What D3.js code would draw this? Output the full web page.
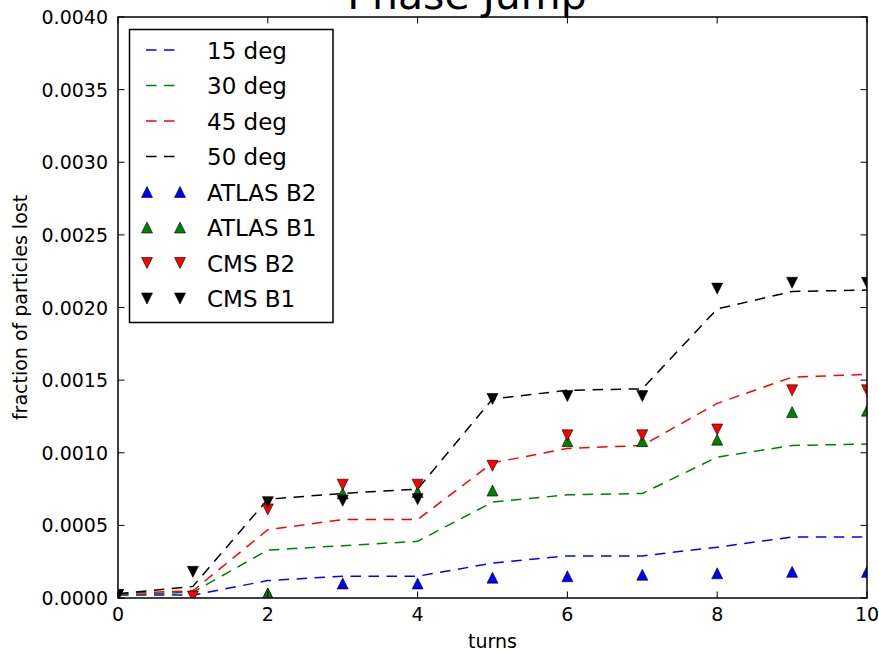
<!DOCTYPE html>
<html><head><meta charset="utf-8">
<script src="https://cdn.jsdelivr.net/npm/d3@7"></script>
<style>body{margin:0;background:#fff}svg{display:block;font-family:"DejaVu Sans",sans-serif}</style>
</head><body><svg id="c" width="879" height="653"></svg>
<script>
const turns = [0,1,2,3,4,5,6,7,8,9,10];
const deg15 = [0.00002,0.00002,0.00012,0.00015,0.00015,0.00024,0.00029,0.00029,0.00035,0.00042,0.00042];
const deg30 = [0.00002,0.00004,0.00033,0.00036,0.00039,0.00066,0.00071,0.00072,0.00097,0.00105,0.00106];
const deg45 = [0.00003,0.00005,0.00047,0.00054,0.00054,0.00093,0.00103,0.00105,0.00134,0.00152,0.00154];
const deg50 = [0.00003,0.00008,0.00068,0.00072,0.00075,0.00137,0.00143,0.00144,0.00199,0.00211,0.00212];
const atlasB2 = [null,null,0.00003,0.00010,0.00010,0.00014,0.00015,0.00016,0.00017,0.00018,0.00018];
const atlasB1 = [null,null,0.00003,0.00072,0.00073,0.00074,0.00108,0.00108,0.00109,0.00128,0.00129];
const cmsB2 = [0.00002,0.00001,0.00061,0.00078,0.00078,0.00091,0.00112,0.00112,0.00116,0.00143,0.00143];
const cmsB1 = [0.00002,0.00018,0.00066,0.00067,0.00068,0.00137,0.00139,0.00139,0.00213,0.00217,0.00217];
const xTicks = [0,2,4,6,8,10];
const yTicks = [0,0.0005,0.001,0.0015,0.002,0.0025,0.003,0.0035,0.004];

const lineSeries = [
  {name:"15 deg", values:deg15, color:"#0000ff"},
  {name:"30 deg", values:deg30, color:"#008000"},
  {name:"45 deg", values:deg45, color:"#ff0000"},
  {name:"50 deg", values:deg50, color:"#000000"}
];
const markerSeries = [
  {name:"ATLAS B2", values:atlasB2, color:"#0000ff", dir:"up"},
  {name:"ATLAS B1", values:atlasB1, color:"#008000", dir:"up"},
  {name:"CMS B2", values:cmsB2, color:"#ff0000", dir:"down"},
  {name:"CMS B1", values:cmsB1, color:"#000000", dir:"down"}
];

const L=118, R=867, T=17, B=598;
const x = d3.scaleLinear().domain([0,10]).range([L,R]);
const y = d3.scaleLinear().domain([0,0.004]).range([B,T]);
const svg = d3.select("#c");

svg.append("defs").append("clipPath").attr("id","clip")
  .append("rect").attr("x",L).attr("y",T).attr("width",R-L).attr("height",B-T);

const DASH = "10.5,7.5";
const line = d3.line().x((d,i)=>x(turns[i])).y(d=>y(d)).curve(d3.curveLinear);
const plot = svg.append("g").attr("clip-path","url(#clip)");
lineSeries.forEach(s=>{
  plot.append("path").attr("d",line(s.values)).attr("fill","none")
    .attr("stroke",s.color).attr("stroke-width",1.5).attr("stroke-dasharray",DASH);
});
const S = 11;
function tri(dir){
  const h=S/2;
  return dir==="up" ? `M0,${-h}L${-h},${h}L${h},${h}Z` : `M0,${h}L${-h},${-h}L${h},${-h}Z`;
}
markerSeries.forEach(s=>{
  turns.forEach((t,i)=>{
    const v=s.values[i];
    if(v==null) return;
    plot.append("path").attr("d",tri(s.dir)).attr("transform",`translate(${x(t)},${y(v)})`)
      .attr("fill",s.color).attr("stroke","#000").attr("stroke-width",0.6);
  });
});

// frame
svg.append("rect").attr("x",L).attr("y",T).attr("width",R-L).attr("height",B-T)
  .attr("fill","none").attr("stroke","#000").attr("stroke-width",1.5);
const TL=6.5;
const ax = svg.append("g").attr("stroke","#000").attr("stroke-width",1);
xTicks.forEach(t=>{
  ax.append("line").attr("x1",x(t)).attr("x2",x(t)).attr("y1",B).attr("y2",B-TL);
  ax.append("line").attr("x1",x(t)).attr("x2",x(t)).attr("y1",T).attr("y2",T+TL);
});
yTicks.forEach(t=>{
  ax.append("line").attr("y1",y(t)).attr("y2",y(t)).attr("x1",L).attr("x2",L+TL);
  ax.append("line").attr("y1",y(t)).attr("y2",y(t)).attr("x1",R).attr("x2",R-TL);
});
const FS=19;
xTicks.forEach(t=>{
  svg.append("text").attr("x",x(t)).attr("y",B+23).attr("text-anchor","middle")
    .attr("font-size",FS).text(d3.format("d")(t));
});
yTicks.forEach(t=>{
  svg.append("text").attr("x",L-10).attr("y",y(t)+7).attr("text-anchor","end")
    .attr("font-size",FS).text(d3.format(".4f")(t));
});
svg.append("text").attr("x",(L+R)/2).attr("y",648).attr("text-anchor","middle")
  .attr("font-size",FS).text("turns");
svg.append("text").attr("transform",`translate(27,${(T+B)/2}) rotate(-90)`)
  .attr("text-anchor","middle").attr("font-size",FS).text("fraction of particles lost");
svg.append("text").attr("x",467).attr("y",9).attr("text-anchor","middle")
  .attr("font-size",41).text("Phase Jump");

// legend
const lg = svg.append("g");
lg.append("rect").attr("x",129.5).attr("y",29.5).attr("width",203.5).attr("height",293)
  .attr("fill","#fff").attr("stroke","#000").attr("stroke-width",1.5);
const rowY = i=>50+i*35.5;
lineSeries.forEach((s,i)=>{
  lg.append("line").attr("x1",146).attr("x2",180).attr("y1",rowY(i)).attr("y2",rowY(i))
    .attr("stroke",s.color).attr("stroke-width",1.5).attr("stroke-dasharray",DASH);
  lg.append("text").attr("x",207).attr("y",rowY(i)+8.5).attr("font-size",23).text(s.name);
});
markerSeries.forEach((s,j)=>{
  const i=j+4;
  [147,180].forEach(px=>{
    lg.append("path").attr("d",tri(s.dir)).attr("transform",`translate(${px},${rowY(i)})`)
      .attr("fill",s.color).attr("stroke","#000").attr("stroke-width",0.6);
  });
  lg.append("text").attr("x",207).attr("y",rowY(i)+8.5).attr("font-size",23).text(s.name);
});
</script></body></html>
